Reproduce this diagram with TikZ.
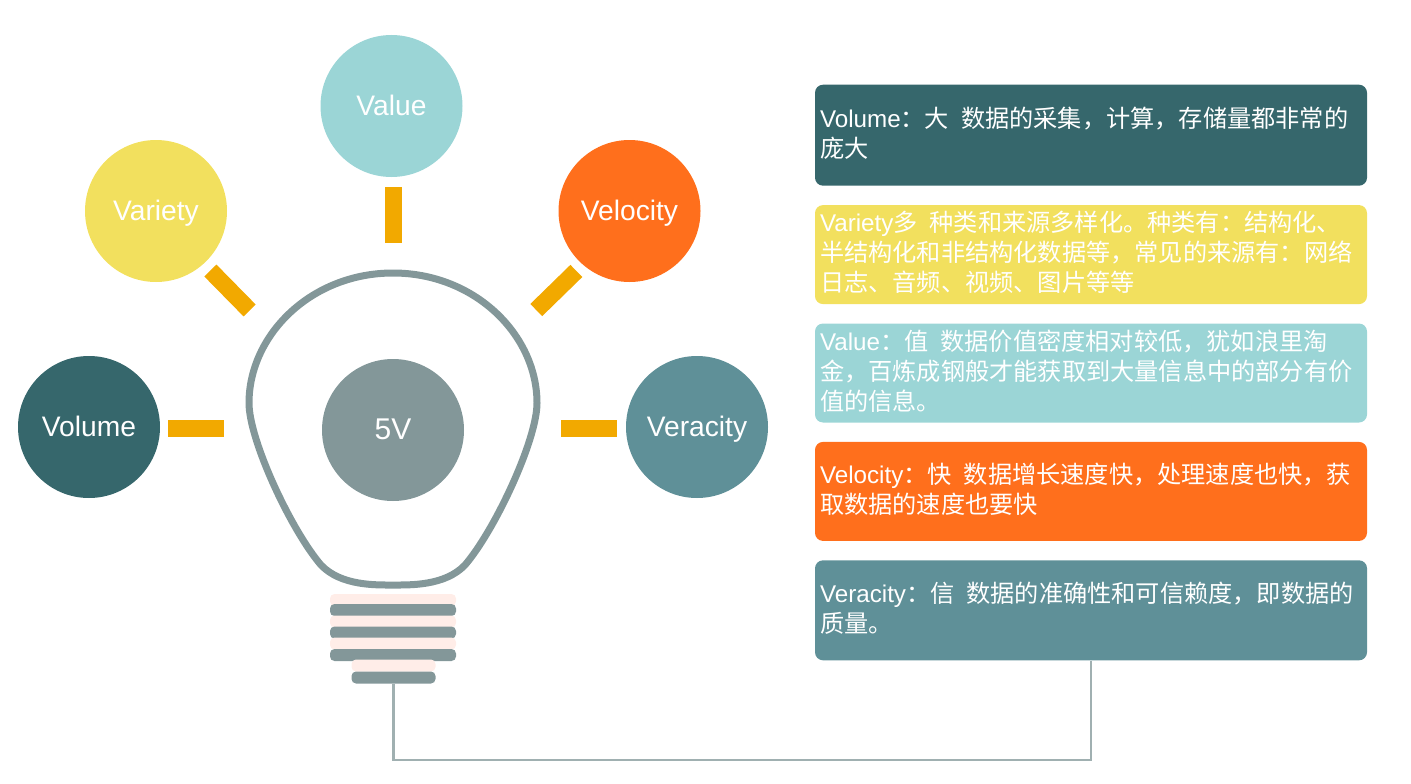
\documentclass[tikz,border=0pt]{standalone}
\usepackage{fontspec}
\setmainfont{Liberation Sans}
\newfontfamily\cjk{Noto Sans CJK SC}
\usetikzlibrary{positioning}

\definecolor{volumecolor}{HTML}{36676C}
\definecolor{varietycolor}{HTML}{F2E05E}
\definecolor{valuecolor}{HTML}{9BD5D6}
\definecolor{velocitycolor}{HTML}{FF6F1C}
\definecolor{veracitycolor}{HTML}{5F9098}
\definecolor{bulbcolor}{HTML}{839799}
\definecolor{spokecolor}{HTML}{F2A900}
\definecolor{threadcolor}{HTML}{FFEDE8}
\definecolor{wirecolor}{HTML}{A0B0B1}

\newcommand{\wordgap}{\ \hspace{4pt}}

\begin{document}
\begin{tikzpicture}[
    x=1pt,y=-1pt,
    node distance=19pt,
    circle node/.style={circle,inner sep=0pt,minimum size=142pt,text=white,text height=19pt,text depth=0pt,font=\fontsize{28.2}{30}\selectfont},
    spoke/.style={rectangle,fill=spokecolor,inner sep=0pt,minimum width=56pt,minimum height=17pt},
    info box/.style={rectangle,rounded corners=8pt,inner xsep=5pt,inner ysep=0pt,minimum width=552pt,text width=542pt,minimum height=99pt,align=left,text=white,font=\fontsize{24.2}{30}\selectfont,execute at end node=\vspace{4pt}},
    thread/.style={rectangle,fill=threadcolor,rounded corners=4.5pt,inner sep=0pt,minimum width=126pt,minimum height=12pt},
    ring/.style={rectangle,fill=bulbcolor,rounded corners=4.5pt,inner sep=0pt,minimum width=126pt,minimum height=12pt},
    wire/.style={draw=wirecolor,line width=2.7pt}
]
\useasboundingbox (0,0) rectangle (1411,784);

% Bulb outline
\draw[draw=bulbcolor,line width=7pt] (393,273)
    .. controls (475,273) and (537,335) .. (537,403)
    .. controls (537,440) and (495,530) .. (465,565)
    .. controls (445,586) and (410,585) .. (393,585)
    .. controls (376,585) and (341,586) .. (321,565)
    .. controls (291,530) and (249,440) .. (249,403)
    .. controls (249,335) and (311,273) .. (393,273) -- cycle;

% Circles
\node[circle node,fill=bulbcolor,font=\fontsize{30}{32}\selectfont] (fivev) at (393,430) {5V};
\node[circle node,fill=volumecolor] (volume) at (89,427) {Volume};
\node[circle node,fill=varietycolor] (variety) at (156,211) {Variety};
\node[circle node,fill=valuecolor] (value) at (391.5,106) {Value};
\node[circle node,fill=velocitycolor] (velocity) at (629.5,211) {Velocity};
\node[circle node,fill=veracitycolor] (veracity) at (697,427) {Veracity};

% Spokes
\node[spoke] (spokevolume) at (196.3,428.7) {};
\node[spoke,rotate=-45.5] (spokevariety) at (230,290.5) {};
\node[spoke,rotate=90] (spokevalue) at (393.5,214.5) {};
\node[spoke,rotate=44.3] (spokevelocity) at (556.3,290.5) {};
\node[spoke] (spokeveracity) at (589.2,428.7) {};

% Lamp base
\node[thread] (threadone) at (393,600) {};
\node[ring] (ringone) at (393,610) {};
\node[thread] (threadtwo) at (393,621.5) {};
\node[ring] (ringtwo) at (393,632.5) {};
\node[thread] (threadthree) at (393,643.5) {};
\node[ring] (ringthree) at (393,655) {};
\node[thread,minimum width=84pt] (threadfour) at (393.5,665.5) {};
\node[ring,minimum width=84pt] (ringfour) at (393.5,677.5) {};

% Text boxes
\node[info box,fill=volumecolor,minimum height=101pt] (volumebox) at (1091,135.2) {Volume{\cjk ：大\wordgap 数据的采集，计算，存储量都非常的\\庞大}};
\node[info box,fill=varietycolor,below=of volumebox] (varietybox) {Variety{\cjk 多\wordgap 种类和来源多样化。种类有：结构化、\\半结构化和非结构化数据等，常见的来源有：网络\\日志、音频、视频、图片等等}};
\node[info box,fill=valuecolor,below=of varietybox] (valuebox) {Value{\cjk ：值\wordgap 数据价值密度相对较低，犹如浪里淘\\金，百炼成钢般才能获取到大量信息中的部分有价\\值的信息。}};
\node[info box,fill=velocitycolor,below=of valuebox] (velocitybox) {Velocity{\cjk ：快\wordgap 数据增长速度快，处理速度也快，获\\取数据的速度也要快}};
\node[info box,fill=veracitycolor,minimum height=100pt,below=of velocitybox] (veracitybox) {Veracity{\cjk ：信\wordgap 数据的准确性和可信赖度，即数据的\\质量。}};

% Wire
\coordinate (elbow) at (1091,760);
\draw[wire] (veracitybox.south) -- (elbow) -| (ringfour.south);

\end{tikzpicture}
\end{document}
